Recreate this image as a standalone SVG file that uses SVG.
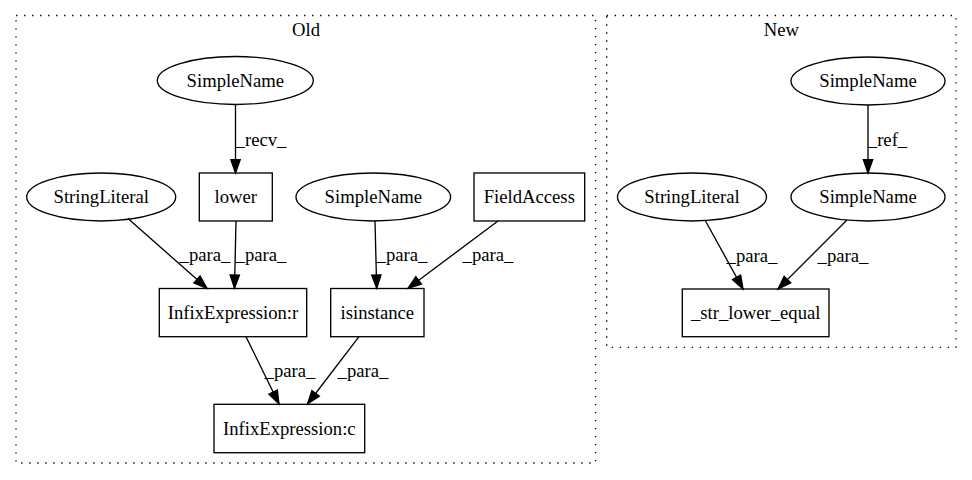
<svg xmlns="http://www.w3.org/2000/svg" width="972" height="480" viewBox="0 0 972 480">
<style>
  .cl { fill: none; stroke: #000; stroke-width: 1.33; stroke-dasharray: 1.33 6.67; }
  .nd { fill: none; stroke: #000; stroke-width: 1.33; }
  .tx { font-family: "Liberation Serif", "Times New Roman", serif; font-size: 18.67px; fill: #000; text-anchor: middle; }
  .ed { fill: none; stroke: #000; stroke-width: 1.33; marker-end: url(#arr); }
</style>
<defs>
  <marker id="arr" markerUnits="userSpaceOnUse" markerWidth="15" markerHeight="11" refX="13.33" refY="4.67" orient="auto" overflow="visible">
    <path d="M0,0 L13.33,4.67 L0,9.33 Z" fill="#000" stroke="#000" stroke-width="1.33"/>
  </marker>
</defs>
<rect width="972" height="480" fill="#fff"/>

<g id="cluster_old">
  <rect class="cl" x="16" y="15.5" width="579.5" height="447.5"/>
  <text class="tx" x="306" y="36">Old</text>
</g>
<g id="cluster_new">
  <rect class="cl" x="606.7" y="15.5" width="349.3" height="331.8"/>
  <text class="tx" x="781.3" y="36">New</text>
</g>

<g id="connectors">
  <line class="ed" x1="235.5" y1="104.5" x2="235.5" y2="173"/>
  <text class="tx" x="261" y="146">_recv_</text>
  <line class="ed" x1="128" y1="218.5" x2="207" y2="288.3"/>
  <text class="tx" x="205" y="261">_para_</text>
  <line class="ed" x1="236" y1="221" x2="234.5" y2="288.3"/>
  <text class="tx" x="261" y="261">_para_</text>
  <line class="ed" x1="375" y1="221" x2="376.7" y2="288.3"/>
  <text class="tx" x="402" y="261">_para_</text>
  <line class="ed" x1="498" y1="221" x2="408" y2="288.3"/>
  <text class="tx" x="488" y="261">_para_</text>
  <line class="ed" x1="246" y1="336.7" x2="279" y2="404"/>
  <text class="tx" x="290" y="377">_para_</text>
  <line class="ed" x1="359" y1="336.7" x2="307.5" y2="404"/>
  <text class="tx" x="363" y="377">_para_</text>

  <line class="ed" x1="868" y1="105" x2="868" y2="173"/>
  <text class="tx" x="887.5" y="146">_ref_</text>
  <line class="ed" x1="705" y1="220" x2="743" y2="289"/>
  <text class="tx" x="752" y="262">_para_</text>
  <line class="ed" x1="847" y1="220" x2="778" y2="289"/>
  <text class="tx" x="843" y="262">_para_</text>
</g>

<g id="old_simplename_1">
  <ellipse class="nd" cx="235.3" cy="80.5" rx="78" ry="24"/>
  <text class="tx" x="235.3" y="86.5">SimpleName</text>
</g>
<g id="old_stringliteral">
  <ellipse class="nd" cx="101.2" cy="197" rx="74.5" ry="24"/>
  <text class="tx" x="101.2" y="203">StringLiteral</text>
</g>
<g id="old_lower">
  <rect class="nd" x="199.3" y="173" width="73" height="48"/>
  <text class="tx" x="235.8" y="203">lower</text>
</g>
<g id="old_simplename_2">
  <ellipse class="nd" cx="373.3" cy="197" rx="77.3" ry="24"/>
  <text class="tx" x="373.3" y="203">SimpleName</text>
</g>
<g id="old_fieldaccess">
  <rect class="nd" x="474" y="173" width="110.7" height="48"/>
  <text class="tx" x="529.3" y="203">FieldAccess</text>
</g>
<g id="old_infix_r">
  <rect class="nd" x="159.3" y="288.5" width="147.4" height="48.2"/>
  <text class="tx" x="233" y="318.5">InfixExpression:r</text>
</g>
<g id="old_isinstance">
  <rect class="nd" x="330.7" y="288.5" width="93.3" height="48.2"/>
  <text class="tx" x="377.3" y="318.5">isinstance</text>
</g>
<g id="old_infix_c">
  <rect class="nd" x="214" y="404.3" width="150.7" height="48.4"/>
  <text class="tx" x="289.3" y="434.5">InfixExpression:c</text>
</g>

<g id="new_simplename_1">
  <ellipse class="nd" cx="868" cy="81" rx="77" ry="24"/>
  <text class="tx" x="868" y="87">SimpleName</text>
</g>
<g id="new_stringliteral">
  <ellipse class="nd" cx="692" cy="197" rx="74.5" ry="24"/>
  <text class="tx" x="692" y="203">StringLiteral</text>
</g>
<g id="new_simplename_2">
  <ellipse class="nd" cx="868" cy="197" rx="77" ry="24"/>
  <text class="tx" x="868" y="203">SimpleName</text>
</g>
<g id="new_str_lower_equal">
  <rect class="nd" x="682.3" y="289" width="146.7" height="47.7"/>
  <text class="tx" x="755.7" y="318.8">_str_lower_equal</text>
</g>
</svg>
